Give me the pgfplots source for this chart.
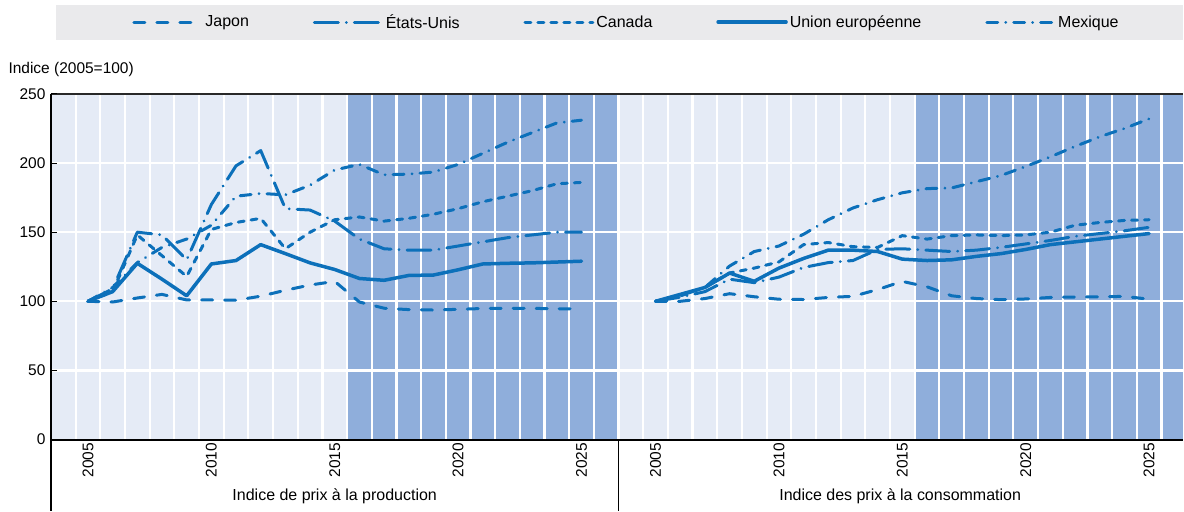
\documentclass[border=0pt]{standalone}
\usepackage{pgfplots}
\pgfplotsset{compat=1.18}
\usepackage{fontspec}
\setmainfont{Liberation Sans}
\definecolor{oecd}{RGB}{12,112,186}
\definecolor{bgc}{RGB}{229,235,246}
\definecolor{projc}{RGB}{143,174,219}
\definecolor{leg}{RGB}{234,234,236}
\definecolor{axc}{RGB}{40,40,40}

% left panel: x = year ; right panel: x = year + 23
\pgfplotstableread{
x y
2005 100
2006 99.5
2007 102.4
2008 105
2009 101
2010 101
2011 100.8
2012 103.7
2013 108
2014 111.8
2015 114.4
2016 99.5
2017 95
2018 94
2019 93.7
2020 94.2
2021 94.8
2022 95
2023 94.9
2024 94.6
2025 94.5
}\japppi
\pgfplotstableread{
x y
2005 100
2006 109
2007 150
2008 148
2009 130
2010 170
2011 198
2012 209
2013 167
2014 166
2015 158
2016 145
2017 138
2018 137
2019 137
2020 140
2021 143
2022 146
2023 148
2024 150
2025 150
}\usappi
\pgfplotstableread{
x y
2005 100
2006 107
2007 148
2008 133
2009 118
2010 152
2011 157
2012 160
2013 138
2014 150
2015 159
2016 161
2017 158
2018 160
2019 163
2020 167
2021 172
2022 176
2023 180
2024 185
2025 186
}\canppi
\pgfplotstableread{
x y
2005 100
2006 107
2007 127.5
2008 116
2009 104
2010 127
2011 129.5
2012 141
2013 134.5
2014 127.8
2015 123
2016 116.5
2017 115.2
2018 118.7
2019 119
2020 122.8
2021 127
2022 127.5
2023 127.8
2024 128.4
2025 129
}\euppi
\pgfplotstableread{
x y
2005 100
2006 110
2007 128
2008 139
2009 145
2010 155
2011 176
2012 178
2013 177
2014 184
2015 195
2016 199
2017 191.5
2018 192
2019 193.5
2020 199
2021 207
2022 215
2023 222
2024 229
2025 231
}\mexppi
% CPI (x = year + 23)
\pgfplotstableread{
x y
2028 100
2029 100
2030 102
2031 105.5
2032 103.3
2033 101.5
2034 101.3
2035 102.8
2036 103.6
2037 108.5
2038 114.4
2039 110.5
2040 104
2041 102
2042 101.2
2043 101.7
2044 102.8
2045 103.1
2046 103.2
2047 103.6
2048 101.5
}\japcpi
\pgfplotstableread{
x y
2028 100
2029 103
2030 107
2031 116
2032 113.5
2033 117.5
2034 124.5
2035 128
2036 129.5
2037 137.5
2038 138
2039 137
2040 136
2041 137
2042 139
2043 141.5
2044 144
2045 147
2046 149
2047 151
2048 153.5
}\uscpi
\pgfplotstableread{
x y
2028 100
2029 104
2030 110
2031 120.5
2032 124
2033 128.5
2034 141
2035 142.5
2036 139.5
2037 139
2038 147.5
2039 145
2040 147.5
2041 148
2042 147.5
2043 148
2044 150
2045 155
2046 157
2047 158.5
2048 159
}\cancpi
\pgfplotstableread{
x y
2028 100
2029 105
2030 110
2031 120.4
2032 114.5
2033 124
2034 131
2035 137
2036 137
2037 136
2038 130.5
2039 129.5
2040 130
2041 132.5
2042 134.5
2043 137.5
2044 141
2045 143
2046 145
2047 147
2048 149
}\eucpi
\pgfplotstableread{
x y
2028 100
2029 104
2030 110
2031 125.5
2032 136
2033 140
2034 148.5
2035 159
2036 167.5
2037 173.5
2038 178.5
2039 181.5
2040 182
2041 186.5
2042 191
2043 197.5
2044 204.5
2045 212
2046 219
2047 225
2048 232
}\mexcpi

\begin{document}
\begin{tikzpicture}[x=1pt,y=1pt]
\path (0,0) rectangle (1184,511);
\fill[leg] (56,471) rectangle (1184,506);
\begin{axis}[
  at={(51pt,71pt)}, anchor=south west,
  scale only axis, width=1133pt, height=346pt,
  xmin=2003.5, xmax=2049.37, ymin=0, ymax=250,
  axis line style={draw=none},
  axis background/.style={fill=bgc},
  clip=false,
  ytick={0,50,...,250},
  yticklabel style={font=\fontsize{15.5}{16}\selectfont, xshift=-2pt},
  /pgf/number format/assume math mode=true,
  ytick style={draw=none},
  xtick={2005,2010,2015,2020,2025,2028,2033,2038,2043,2048},
  xticklabels={2005,2010,2015,2020,2025,2005,2010,2015,2020,2025},
  xtick style={draw=none},
  x tick label style={rotate=90, anchor=east, font=\fontsize{15.5}{16}\selectfont},
  legend columns=5,
  legend style={at={(0.5085,1.208)}, anchor=center, draw=none, fill=none,
    font=\fontsize{16}{17}\selectfont,
    /tikz/every even column/.append style={column sep=62pt},
    /tikz/every odd column/.append style={column sep=0pt},
    /tikz/nodes={inner xsep=2pt}},
  legend image code/.code={\draw[#1] (0pt,0pt) -- (68pt,0pt);},
  every axis plot/.append style={oecd, line width=3pt, line cap=round, line join=round},
]
\fill[projc] (axis cs:2015.5,0) rectangle (axis cs:2026.5,250);
\fill[projc] (axis cs:2038.5,0) rectangle (axis cs:2049.37,250);
\pgfplotsinvokeforeach{2004.5,2005.5,...,2048.5}{\draw[white, line width=2.2pt] (axis cs:#1,0) -- (axis cs:#1,250);}
\pgfplotsinvokeforeach{50,100,150,200}{\draw[white, line width=2.2pt] (axis cs:2003.5,#1) -- (axis cs:2049.37,#1);}

\addplot[dash pattern=on 11pt off 12pt] table {\japppi};
\addlegendentry{Japon}
\addplot[dash pattern=on 24pt off 8pt on 0.01pt off 8pt] table {\usappi};
\addlegendentry{États-Unis}
\addplot[dash pattern=on 6pt off 7pt] table {\canppi};
\addlegendentry{Canada}
\addplot[line width=3.5pt] table {\euppi};
\addlegendentry{Union européenne}
\addplot[dash pattern=on 11pt off 8pt on 0.01pt off 8pt] table {\mexppi};
\addlegendentry{Mexique}

\addplot[dash pattern=on 11pt off 12pt, forget plot] table {\japcpi};
\addplot[dash pattern=on 24pt off 8pt on 0.01pt off 8pt, forget plot] table {\uscpi};
\addplot[dash pattern=on 6pt off 7pt, forget plot] table {\cancpi};
\addplot[line width=3.5pt, forget plot] table {\eucpi};
\addplot[dash pattern=on 11pt off 8pt on 0.01pt off 8pt, forget plot] table {\mexcpi};
\end{axis}
\draw[axc, line width=2pt] (51,417) -- (1184,417);
\draw[black, line width=2pt] (51,71) -- (1184,71);
\draw[black, line width=1.5pt] (51,0) -- (51,417);
\draw[black, line width=1pt] (619,0) -- (619,71);
\foreach \v in {0,50,...,250} {\draw[black, line width=1pt] (51,71+\v*1.384) -- (57,71+\v*1.384);}
\node[anchor=west, font=\fontsize{15.5}{16}\selectfont] at (5,441) {Indice (2005=100)};
\node[font=\fontsize{16}{17}\selectfont] at (335,14) {Indice de prix à la production};
\node[font=\fontsize{16}{17}\selectfont] at (901,14) {Indice des prix à la consommation};
\end{tikzpicture}
\end{document}
